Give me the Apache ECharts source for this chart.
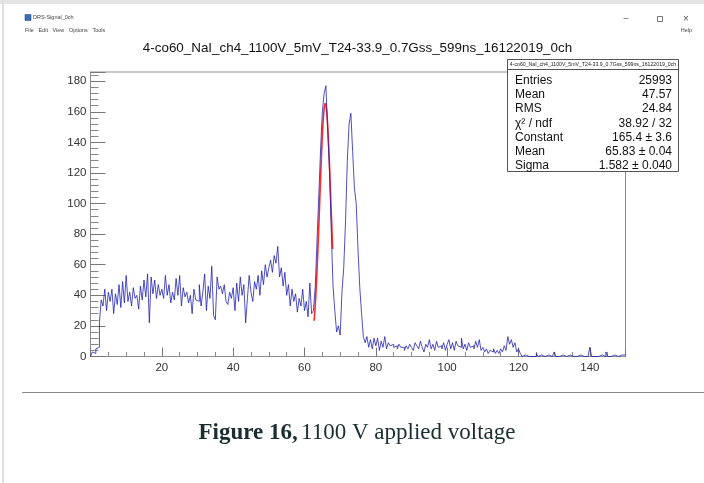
<!DOCTYPE html>
<html>
<head>
<meta charset="utf-8">
<script src="https://cdn.jsdelivr.net/npm/echarts@6/dist/echarts.min.js"></script>
<style>
  html, body { margin: 0; padding: 0; background: #ffffff; }
  #chart { width: 704px; height: 483px; }
</style>
</head>
<body>
<div id="chart"></div>
<script>
// Histogram: 0.5-wide bins from 0 to 150, counts listed per 10-unit stretch
const binWidth = 0.5;
const xRange = [0, 150];
const c000_010 = [0, 3, 2, 5, 6, 22, 37, 33, 44, 30, 42, 36, 44, 28, 41, 34, 47, 32, 49, 35];
const c010_020 = [53, 36, 42, 33, 45, 38, 40, 31, 46, 37, 50, 39, 54, 22, 52, 41, 50, 38, 47, 40];
const c020_030 = [44, 38, 53, 40, 47, 35, 42, 37, 51, 40, 53, 33, 45, 39, 42, 35, 40, 28, 44, 37];
const c030_040 = [36, 47, 33, 42, 54, 30, 46, 38, 59, 27, 24, 52, 44, 46, 41, 47, 36, 34, 42, 38];
const c040_050 = [45, 30, 48, 36, 52, 40, 47, 22, 38, 53, 42, 36, 49, 44, 53, 40, 56, 47, 60, 52];
const c050_060 = [58, 63, 55, 66, 61, 72, 52, 58, 46, 55, 40, 47, 33, 44, 36, 41, 29, 38, 33, 44];
const c060_070 = [30, 36, 26, 48, 28, 30, 45, 75, 105, 135, 160, 172, 177, 148, 122, 82, 46, 30, 16, 20];
const c070_080 = [14, 42, 58, 88, 128, 152, 159, 134, 110, 100, 70, 45, 28, 13, 9, 13, 6, 11, 5, 12];
const c080_090 = [7, 12, 4, 10, 6, 13, 5, 9, 7, 8, 6, 7, 5, 8, 6, 6, 4, 7, 5, 8];
const c090_100 = [6, 4, 9, 7, 5, 10, 6, 3, 8, 6, 11, 5, 8, 4, 10, 6, 7, 5, 9, 4];
const c100_110 = [8, 11, 5, 9, 4, 10, 7, 6, 12, 5, 8, 4, 9, 6, 7, 5, 10, 6, 11, 4];
const c110_120 = [6, 3, 5, 2, 4, 3, 5, 2, 4, 2, 5, 3, 7, 4, 13, 8, 11, 6, 9, 3];
const c120_130 = [5, 2, 0, 1, 0, 0, 0, 0, 0, 0, 2, 0, 1, 0, 0, 0, 1, 0, 0, 1];
const c130_140 = [3, 0, 0, 0, 1, 0, 0, 0, 1, 2, 0, 0, 0, 0, 1, 0, 0, 0, 0, 0];
const c140_150 = [6, 0, 0, 0, 0, 0, 1, 0, 0, 3, 0, 0, 0, 1, 0, 0, 1, 1, 0, 1];

// Gaussian fit parameters (as reported in the statistics box)
const fitConstant = 165.4, fitConstantErr = 3.6;
const fitMean = 65.83, fitMeanErr = 0.04;
const fitSigma = 1.582, fitSigmaErr = 0.040;
const fitRange = [62.7, 67.9];
const chi2 = 38.92, ndf = 32;

// Histogram statistics
const histTitle = '4-co60_NaI_ch4_1100V_5mV_T24-33.9_0.7Gss_599ns_16122019_0ch';
const entries = 25993, histMean = 47.57, histRms = 24.84;

// Y tick labels 0..180 step 20, x tick labels 20..140 step 20
const yTickStep = 20, yMax = 186;
const xTickStep = 20;

const counts = [].concat(c000_010, c010_020, c020_030, c030_040, c040_050, c050_060,
  c060_070, c070_080, c080_090, c090_100, c100_110, c110_120, c120_130, c130_140, c140_150);

// step outline: one point per bin low edge, plus the closing upper edge
const histPoints = counts.map((v, i) => [xRange[0] + i * binWidth, v]);
histPoints.push([xRange[0] + counts.length * binWidth, counts[counts.length - 1]]);

// fitted Gaussian evaluated across the fit range
const fitPoints = [];
for (let x = fitRange[0]; x <= fitRange[1] + 1e-9; x += 0.05) {
  const d = (x - fitMean) / fitSigma;
  fitPoints.push([x, fitConstant * Math.exp(-0.5 * d * d)]);
}

const sans = '"Liberation Sans", Arial, Helvetica, sans-serif';
const serif = '"Liberation Serif", "Times New Roman", serif';

const statLabels = ['Entries', 'Mean', 'RMS', 'χ² / ndf', 'Constant', 'Mean', 'Sigma'];
const statValues = [
  String(entries), histMean.toFixed(2), histRms.toFixed(2),
  chi2.toFixed(2) + ' / ' + ndf,
  fitConstant.toFixed(1) + ' ± ' + fitConstantErr.toFixed(1),
  fitMean.toFixed(2) + ' ± ' + fitMeanErr.toFixed(2),
  fitSigma.toFixed(3) + ' ± ' + fitSigmaErr.toFixed(3)
];
const statRowY = [81, 95, 109, 123.5, 138, 152, 166];

const graphics = [];
// page frame
graphics.push({ type: 'rect', shape: { x: 0, y: 0, width: 704, height: 4 }, style: { fill: '#e4e4e4' }, silent: true });
graphics.push({ type: 'rect', shape: { x: 2, y: 0, width: 2, height: 483 }, style: { fill: '#e0e0e0' }, silent: true });
// window bottom edge
graphics.push({ type: 'line', shape: { x1: 22, y1: 392.5, x2: 704, y2: 392.5 }, style: { stroke: '#8a8a8a', lineWidth: 1 }, silent: true });
// window title bar
graphics.push({ type: 'rect', shape: { x: 25, y: 14.5, width: 6, height: 6 }, style: { fill: '#3a6fb5', stroke: '#1f3f7a', lineWidth: 0.5 }, silent: true });
graphics.push({ type: 'text', x: 33, y: 17.5, style: { text: 'DRS-Signal_0ch', font: '5.5px ' + sans, fill: '#444', verticalAlign: 'middle' }, silent: true });
graphics.push({ type: 'text', x: 626, y: 19, style: { text: '–', font: '9px ' + sans, fill: '#555', align: 'center', verticalAlign: 'middle' }, silent: true });
graphics.push({ type: 'rect', shape: { x: 657.5, y: 16.5, width: 5, height: 5 }, style: { fill: 'none', stroke: '#555', lineWidth: 0.8 }, silent: true });
graphics.push({ type: 'text', x: 686, y: 19, style: { text: '×', font: '10px ' + sans, fill: '#555', align: 'center', verticalAlign: 'middle' }, silent: true });
// menu bar
graphics.push({ type: 'text', x: 25, y: 30, style: { text: 'File   Edit   View   Options   Tools', font: '5.5px ' + sans, fill: '#444', verticalAlign: 'middle' }, silent: true });
graphics.push({ type: 'text', x: 692, y: 30, style: { text: 'Help', font: '5.5px ' + sans, fill: '#444', align: 'right', verticalAlign: 'middle' }, silent: true });
// histogram title
graphics.push({ type: 'text', x: 357.5, y: 48, style: { text: histTitle, font: '13.4px ' + sans, fill: '#111', align: 'center', verticalAlign: 'middle' }, silent: true, z: 10 });
// statistics box
graphics.push({ type: 'rect', shape: { x: 507.5, y: 59.5, width: 171, height: 112 }, style: { fill: '#fff', stroke: '#555', lineWidth: 1 }, silent: true, z: 10 });
graphics.push({ type: 'line', shape: { x1: 507.5, y1: 69.5, x2: 678.5, y2: 69.5 }, style: { stroke: '#555', lineWidth: 1 }, silent: true, z: 11 });
graphics.push({ type: 'text', x: 593, y: 64.5, style: { text: histTitle, font: '5.2px ' + sans, fill: '#222', align: 'center', verticalAlign: 'middle' }, silent: true, z: 11 });
statLabels.forEach((lab, i) => {
  graphics.push({ type: 'text', x: 515, y: statRowY[i], style: { text: lab, font: '12px ' + sans, fill: '#111', verticalAlign: 'middle' }, silent: true, z: 11 });
  graphics.push({ type: 'text', x: 672, y: statRowY[i], style: { text: statValues[i], font: '12px ' + sans, fill: '#111', align: 'right', verticalAlign: 'middle' }, silent: true, z: 11 });
});
// caption
graphics.push({
  type: 'text', x: 357, y: 433,
  style: {
    text: '{b|Figure 16,} {r|1100 V applied voltage}',
    align: 'center', verticalAlign: 'middle',
    rich: {
      b: { font: 'bold 23px ' + serif, fill: '#1a2d31' },
      r: { font: '23px ' + serif, fill: '#1a2d31' }
    }
  },
  silent: true
});

const chart = echarts.init(document.getElementById('chart'), null, { renderer: 'canvas' });
chart.setOption({
  animation: false,
  backgroundColor: '#ffffff',
  grid: { left: 90.5, right: 78.5, top: 72, bottom: 126.5, show: true, borderColor: '#8c8c8c', borderWidth: 1, backgroundColor: 'transparent' },
  xAxis: {
    type: 'value', min: xRange[0], max: xRange[1], interval: xTickStep,
    axisLine: { show: true, lineStyle: { color: '#8c8c8c', width: 1 } },
    axisTick: { show: true, inside: true, length: 9, lineStyle: { color: '#777' } },
    minorTick: { show: true, splitNumber: 4, length: 4.5, lineStyle: { color: '#888' } },
    splitLine: { show: false },
    axisLabel: {
      margin: 5, color: '#333', fontFamily: sans, fontSize: 11.5,
      showMaxLabel: false, showMinLabel: false,
      formatter: v => (v > 0 && v % xTickStep === 0 ? String(v) : '')
    }
  },
  yAxis: {
    type: 'value', min: 0, max: yMax, interval: yTickStep,
    axisLine: { show: true, lineStyle: { color: '#8c8c8c', width: 1 } },
    axisTick: { show: true, inside: true, length: 15, lineStyle: { color: '#777' } },
    minorTick: { show: true, splitNumber: 5, length: 8, lineStyle: { color: '#888' } },
    splitLine: { show: false },
    axisLabel: {
      margin: 4, color: '#333', fontFamily: sans, fontSize: 11.5,
      showMaxLabel: false,
      formatter: v => (v % yTickStep === 0 ? String(v) : '')
    }
  },
  series: [
    {
      type: 'line', name: 'fit', data: fitPoints, smooth: true, showSymbol: false,
      lineStyle: { color: '#ff2a2a', width: 1.6 }, z: 2, silent: true
    },
    {
      type: 'line', name: 'hist', data: histPoints, step: 'end', showSymbol: false,
      lineStyle: { color: 'rgba(30,30,180,0.78)', width: 1 }, z: 3, silent: true
    }
  ],
  graphic: graphics
});
</script>
</body>
</html>
